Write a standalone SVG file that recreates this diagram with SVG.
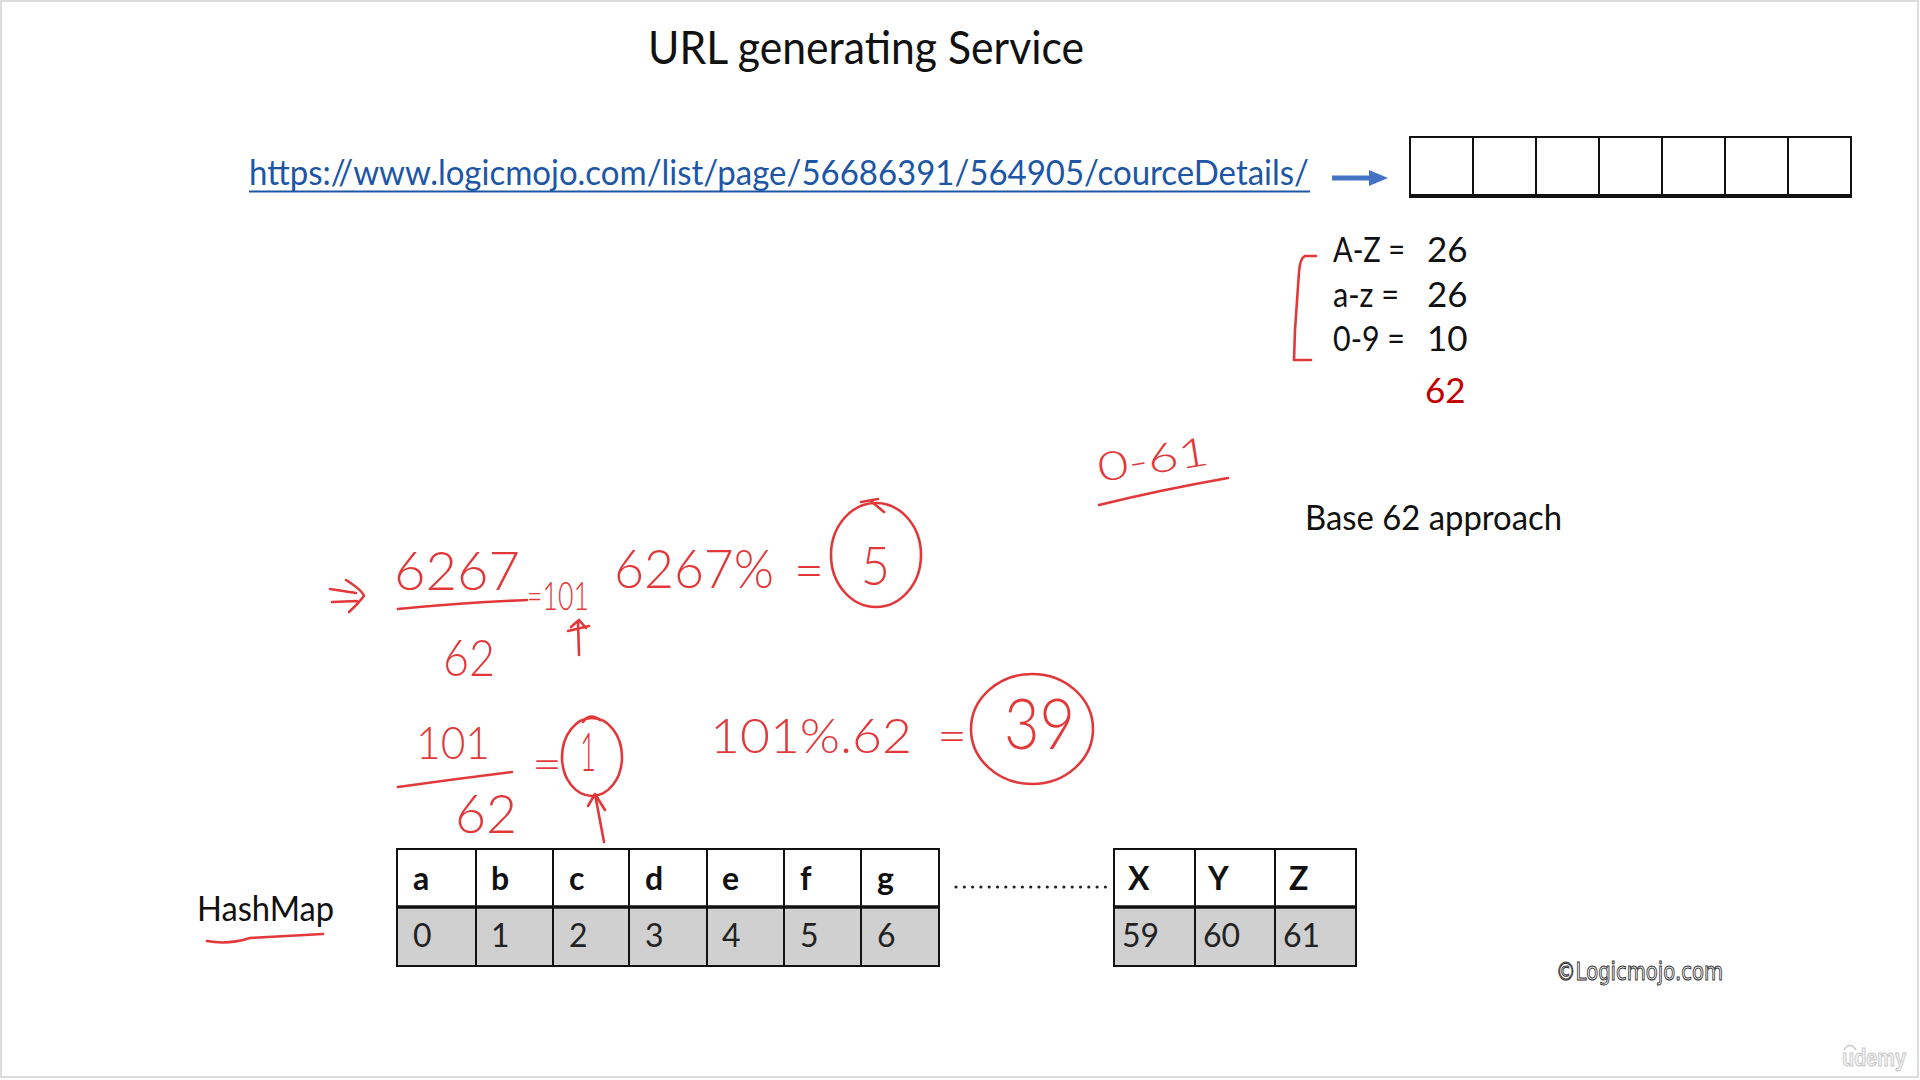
<svg xmlns="http://www.w3.org/2000/svg" width="1920" height="1080" viewBox="0 0 1920 1080">
  <defs>
    <style>
      .txt { font-family: "Lato", "Open Sans", "Liberation Sans", sans-serif; fill: #111; }
      .body { font-size: 35px; }
      .hd { font-family: "Lato", "Open Sans", "Liberation Sans", sans-serif; font-size: 32px; font-weight: 700; fill: #111; }
      .val { font-family: "Lato", "Open Sans", "Liberation Sans", sans-serif; font-size: 32px; fill: #222; }
      .ink { fill: none; stroke: #e2383a; stroke-width: 2.6; stroke-linecap: round; stroke-linejoin: round; }
      .inktxt { font-family: "Lato", "Open Sans", "Liberation Sans", sans-serif; font-weight: 300; fill: #e2383a; }
      .cell { fill: #ffffff; stroke: #111; stroke-width: 2; }
      .cellg { fill: #d0d0d0; stroke: #111; stroke-width: 2; }
    </style>
  </defs>

  <!-- slide background and frame -->
  <rect x="0" y="0" width="1920" height="1080" fill="#ffffff"/>
  <rect x="1" y="1" width="1917" height="1076" fill="none" stroke="#dcdcdc" stroke-width="2"/>

  <!-- title -->
  <g id="title">
    <text class="txt" x="648" y="64" font-size="47" textLength="436" lengthAdjust="spacingAndGlyphs">URL generating Service</text>
  </g>

  <!-- long URL -->
  <g id="long-url">
    <text x="249" y="185" font-family="Lato, 'Open Sans', 'Liberation Sans', sans-serif" font-size="35" fill="#1d56a5" textLength="1060" lengthAdjust="spacingAndGlyphs">https://www.logicmojo.com/list/page/56686391/564905/courceDetails/</text>
    <line x1="249" y1="191.5" x2="1310" y2="191.5" stroke="#1d56a5" stroke-width="2"/>
  </g>

  <!-- seven-slot short code -->
  <g id="short-code">
    <rect x="1410" y="137" width="441" height="59" fill="#fff" stroke="#111" stroke-width="2"/>
    <line x1="1473" y1="137" x2="1473" y2="196" stroke="#111" stroke-width="2"/>
    <line x1="1536" y1="137" x2="1536" y2="196" stroke="#111" stroke-width="2"/>
    <line x1="1599" y1="137" x2="1599" y2="196" stroke="#111" stroke-width="2"/>
    <line x1="1662" y1="137" x2="1662" y2="196" stroke="#111" stroke-width="2"/>
    <line x1="1725" y1="137" x2="1725" y2="196" stroke="#111" stroke-width="2"/>
    <line x1="1788" y1="137" x2="1788" y2="196" stroke="#111" stroke-width="2"/>
    <line x1="1409" y1="196" x2="1852" y2="196" stroke="#111" stroke-width="4"/>
  </g>

  <!-- connectors -->
  <g id="connectors">
    <line x1="1332" y1="178" x2="1372" y2="178" stroke="#4472c4" stroke-width="5"/>
    <polygon points="1369,170 1388,178 1369,186" fill="#4472c4"/>
  </g>

  <!-- character set counts -->
  <g id="charset">
    <path class="ink" d="M1316,256 L1305,256 Q1300,258 1299,272 L1295,330 L1294,360 L1311,360" stroke="#e06060"/>
    <text class="txt body" x="1333" y="262" textLength="72" lengthAdjust="spacingAndGlyphs">A-Z =</text>
    <text class="txt body" x="1427" y="262">26</text>
    <text class="txt body" x="1333" y="307" textLength="66" lengthAdjust="spacingAndGlyphs">a-z =</text>
    <text class="txt body" x="1427" y="307">26</text>
    <text class="txt body" x="1333" y="351" textLength="72" lengthAdjust="spacingAndGlyphs">0-9 =</text>
    <text class="txt body" x="1427" y="351">10</text>
    <text class="txt body" x="1425" y="403" style="fill:#c00000">62</text>
  </g>

  <!-- index range note -->
  <g id="range-note">
    <text class="inktxt" x="1100" y="482" font-size="40" textLength="112" lengthAdjust="spacingAndGlyphs" transform="rotate(-9 1100 482)">0-61</text>
    <path class="ink" d="M1099,505 Q1160,490 1228,478"/>
  </g>

  <g id="base62-label">
    <text class="txt body" x="1305" y="530" textLength="257" lengthAdjust="spacingAndGlyphs">Base 62 approach</text>
  </g>

  <!-- worked division: 6267 / 62 -->
  <g id="step-1">
    <path class="ink" d="M330,589 L356,593 M332,602 L357,601 M346,580 Q362,590 364,596 Q358,604 349,612"/>
    <text class="inktxt" x="394" y="590" font-size="54" textLength="126" lengthAdjust="spacingAndGlyphs">6267</text>
    <path class="ink" d="M398,609 Q460,603 527,600"/>
    <text class="inktxt" x="443" y="676" font-size="52" textLength="52" lengthAdjust="spacingAndGlyphs">62</text>
    <text class="inktxt" x="527" y="610" font-size="40" textLength="62" lengthAdjust="spacingAndGlyphs">=101</text>
    <path class="ink" d="M579,655 L578,621 M568,631 L589,626 M571,627 L579,620 L586,628"/>
    <text class="inktxt" x="614" y="588" font-size="54" textLength="160" lengthAdjust="spacingAndGlyphs">6267%</text>
    <text class="inktxt" x="794" y="588" font-size="52" textLength="30" lengthAdjust="spacingAndGlyphs">=</text>
    <ellipse class="ink" cx="876" cy="555" rx="45" ry="52"/>
    <path class="ink" d="M861,502 L878,499 M872,502 L884,512"/>
    <text class="inktxt" x="861" y="585" font-size="54" textLength="29" lengthAdjust="spacingAndGlyphs">5</text>
  </g>

  <!-- worked division: 101 / 62 -->
  <g id="step-2">
    <text class="inktxt" x="416" y="759" font-size="46" textLength="74" lengthAdjust="spacingAndGlyphs">101</text>
    <path class="ink" d="M398,787 Q455,779 512,772"/>
    <text class="inktxt" x="455" y="833" font-size="54" textLength="62" lengthAdjust="spacingAndGlyphs">62</text>
    <text class="inktxt" x="532" y="780" font-size="46" textLength="30" lengthAdjust="spacingAndGlyphs">=</text>
    <ellipse class="ink" cx="592" cy="757" rx="30" ry="39"/>
    <path class="ink" d="M583,722 Q590,712 600,720"/>
    <text class="inktxt" x="580" y="771" font-size="54" textLength="16" lengthAdjust="spacingAndGlyphs">1</text>
    <path class="ink" d="M604,842 L595,794 M595,794 L605,810 M595,794 L588,806"/>
    <text class="inktxt" x="710" y="753" font-size="48" textLength="202" lengthAdjust="spacingAndGlyphs">101%.62</text>
    <text class="inktxt" x="937" y="752" font-size="48" textLength="30" lengthAdjust="spacingAndGlyphs">=</text>
    <ellipse class="ink" cx="1032" cy="729" rx="61" ry="55"/>
    <text class="inktxt" x="1004" y="749" font-size="70" textLength="71" lengthAdjust="spacingAndGlyphs">39</text>
  </g>

  <!-- HashMap label -->
  <g id="hashmap-label">
    <text class="txt body" x="197" y="921" textLength="137" lengthAdjust="spacingAndGlyphs">HashMap</text>
    <path class="ink" d="M207,941 Q228,945 250,938 L323,934" stroke="#e06060"/>
  </g>

  <!-- lookup table: a..g -->
  <g id="table-lower">
    <rect class="cell" x="397" y="849" width="542" height="58"/>
    <rect class="cellg" x="397" y="907" width="542" height="59"/>
    <g stroke="#111" stroke-width="2">
      <line x1="476" y1="849" x2="476" y2="966"/>
      <line x1="553" y1="849" x2="553" y2="966"/>
      <line x1="629" y1="849" x2="629" y2="966"/>
      <line x1="707" y1="849" x2="707" y2="966"/>
      <line x1="784" y1="849" x2="784" y2="966"/>
      <line x1="861" y1="849" x2="861" y2="966"/>
    </g>
    <line x1="396" y1="907" x2="940" y2="907" stroke="#111" stroke-width="3.5"/>
    <text class="hd" x="413" y="890">a</text>
    <text class="hd" x="491" y="890">b</text>
    <text class="hd" x="569" y="890">c</text>
    <text class="hd" x="645" y="890">d</text>
    <text class="hd" x="722" y="890">e</text>
    <text class="hd" x="800" y="890">f</text>
    <text class="hd" x="877" y="890">g</text>
    <text class="val" x="413" y="947">0</text>
    <text class="val" x="491" y="947">1</text>
    <text class="val" x="569" y="947">2</text>
    <text class="val" x="645" y="947">3</text>
    <text class="val" x="722" y="947">4</text>
    <text class="val" x="800" y="947">5</text>
    <text class="val" x="877" y="947">6</text>
  </g>

  <!-- ellipsis between the two table parts -->
  <g id="ellipsis">
    <line x1="956" y1="887" x2="1106" y2="887" stroke="#222" stroke-width="3.2" stroke-linecap="round" stroke-dasharray="0 8.3"/>
  </g>

  <!-- lookup table: X..Z -->
  <g id="table-upper">
    <rect class="cell" x="1114" y="849" width="242" height="58"/>
    <rect class="cellg" x="1114" y="907" width="242" height="59"/>
    <g stroke="#111" stroke-width="2">
      <line x1="1195" y1="849" x2="1195" y2="966"/>
      <line x1="1275" y1="849" x2="1275" y2="966"/>
    </g>
    <line x1="1113" y1="907" x2="1357" y2="907" stroke="#111" stroke-width="3.5"/>
    <text class="hd" x="1128" y="890">X</text>
    <text class="hd" x="1208" y="890">Y</text>
    <text class="hd" x="1289" y="890">Z</text>
    <text class="val" x="1122" y="947">59</text>
    <text class="val" x="1203" y="947">60</text>
    <text class="val" x="1283" y="947">61</text>
  </g>

  <!-- footer marks -->
  <g id="footer">
    <text x="1556" y="980" font-family="'DejaVu Sans', 'Liberation Sans', sans-serif" font-size="24" fill="#ffffff" stroke="#333" stroke-width="1" textLength="167" lengthAdjust="spacingAndGlyphs">©Logicmojo.com</text>
    <text x="1842" y="1066" font-family="'Liberation Sans', sans-serif" font-size="24" font-weight="700" fill="#f2f2f2" stroke="#c8c8c8" stroke-width="1" textLength="64" lengthAdjust="spacingAndGlyphs">udemy</text>
    <path d="M1844,1050 Q1850,1041 1856,1050" fill="none" stroke="#c8c8c8" stroke-width="1.5"/>
  </g>
</svg>
